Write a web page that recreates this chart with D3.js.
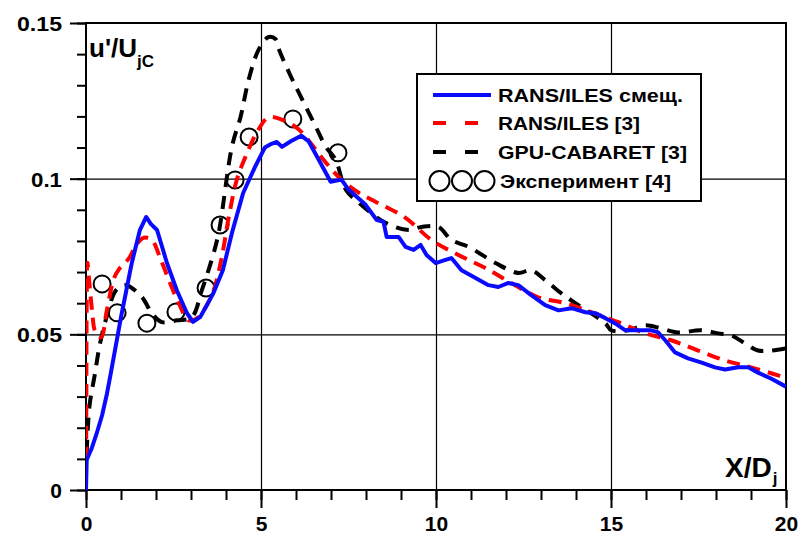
<!DOCTYPE html>
<html>
<head>
<meta charset="utf-8">
<script src="https://cdn.jsdelivr.net/npm/d3@7/dist/d3.min.js"></script>
<style>
  body { margin: 0; background: #fff; }
  svg { display: block; }
  text { font-family: "Liberation Sans", Arial, sans-serif; font-weight: bold; fill: #000; }
</style>
</head>
<body>
<svg width="803" height="537"></svg>
<script>
// RANS/ILES смещ. (solid blue)
const blueX = [0, 0.02, 0.15, 0.3, 0.46, 0.6, 0.7, 0.83, 1.0, 1.15, 1.31, 1.54, 1.72, 1.85, 2.03, 2.31, 2.6, 2.89, 3.06, 3.26, 3.63, 3.91, 4.18, 4.49, 4.83, 5.11, 5.3, 5.45, 5.6, 5.85, 6.15, 6.36, 6.65, 6.99, 7.3, 7.5, 7.99, 8.3, 8.5, 8.59, 8.93, 9.13, 9.36, 9.56, 9.73, 9.99, 10.27, 10.44, 10.73, 11.13, 11.5, 11.78, 12.07, 12.35, 12.72, 13.12, 13.5, 13.87, 14.27, 14.55, 14.84, 15.12, 15.41, 15.69, 16.15, 16.35, 16.55, 16.83, 17.2, 17.57, 17.97, 18.26, 18.63, 18.92, 19.2, 19.57, 20];
const blueY = [0, 0.0097, 0.013, 0.018, 0.024, 0.031, 0.037, 0.045, 0.0555, 0.064, 0.073, 0.0835, 0.0877, 0.0855, 0.0835, 0.073, 0.064, 0.0567, 0.054, 0.0555, 0.063, 0.0706, 0.083, 0.0954, 0.1038, 0.110, 0.1112, 0.1118, 0.1102, 0.112, 0.1138, 0.112, 0.1061, 0.099, 0.0997, 0.0965, 0.0916, 0.0868, 0.0861, 0.0813, 0.0813, 0.0781, 0.0771, 0.0787, 0.0755, 0.0729, 0.0739, 0.0745, 0.0706, 0.0681, 0.0658, 0.0652, 0.0665, 0.0658, 0.0626, 0.0594, 0.0577, 0.0584, 0.0571, 0.0568, 0.0552, 0.0535, 0.0513, 0.0513, 0.0513, 0.0506, 0.0481, 0.0442, 0.0423, 0.041, 0.0394, 0.0387, 0.0394, 0.0394, 0.0377, 0.0358, 0.0332];

// RANS/ILES [3] (red dashed)
const redX = [0, 0.01, 0.02, 0.04, 0.1, 0.18, 0.26, 0.43, 0.6, 0.8, 0.95, 1.23, 1.45, 1.65, 1.88, 2.14, 2.37, 2.65, 2.94, 3.22, 3.42, 3.65, 3.88, 4.08, 4.31, 4.56, 4.88, 5.22, 5.71, 6.08, 6.45, 6.85, 7.3, 7.79, 8.27, 9.13, 9.87, 10.64, 11.41, 12.15, 12.92, 13.69, 14.44, 15.21, 15.98, 16.72, 17.49, 18.26, 19.0, 19.77, 20];
const redY = [0.003, 0.03, 0.06, 0.073, 0.066, 0.057, 0.051, 0.049, 0.058, 0.068, 0.071, 0.0745, 0.079, 0.081, 0.0803, 0.0739, 0.0674, 0.060, 0.0545, 0.0555, 0.0587, 0.0642, 0.0748, 0.0877, 0.0997, 0.1071, 0.1148, 0.1197, 0.1184, 0.1158, 0.111, 0.1052, 0.0997, 0.0955, 0.0926, 0.0874, 0.0803, 0.0755, 0.0713, 0.0665, 0.0619, 0.060, 0.0571, 0.0539, 0.0503, 0.0481, 0.0448, 0.0416, 0.0394, 0.0368, 0.0358];

// GPU-CABARET [3] (black dashed)
const blackX = [0.02, 0.1, 0.25, 0.4, 0.6, 0.86, 1.14, 1.6, 1.88, 2.17, 2.6, 3.02, 3.31, 3.59, 3.79, 4.17, 4.42, 4.65, 4.94, 5.22, 5.42, 5.51, 5.85, 6.13, 6.56, 6.85, 7.13, 7.42, 7.79, 8.56, 9.22, 9.59, 10.07, 10.44, 10.93, 11.7, 12.35, 12.72, 13.12, 13.58, 13.98, 14.84, 15.01, 15.49, 15.98, 16.43, 16.92, 17.57, 18.06, 18.43, 18.83, 19.2, 19.57, 20];
const blackY = [0.012, 0.027, 0.037, 0.047, 0.056, 0.0642, 0.0658, 0.0619, 0.0568, 0.0539, 0.0545, 0.0555, 0.0642, 0.0739, 0.0826, 0.1103, 0.12, 0.1319, 0.1416, 0.1455, 0.1448, 0.1416, 0.1329, 0.1265, 0.1168, 0.1103, 0.1061, 0.0965, 0.0923, 0.0858, 0.0835, 0.0845, 0.0845, 0.0803, 0.0781, 0.0729, 0.0697, 0.0706, 0.0674, 0.0632, 0.060, 0.0535, 0.0513, 0.0513, 0.0529, 0.0519, 0.0506, 0.0513, 0.0503, 0.0497, 0.0471, 0.0448, 0.0448, 0.0455];

// Эксперимент [4] (open circles)
const expX = [0.46, 0.89, 1.74, 2.57, 3.43, 3.83, 4.26, 4.66, 5.91, 7.2];
const expY = [0.0662, 0.0569, 0.0536, 0.0572, 0.0649, 0.0851, 0.0996, 0.1134, 0.1192, 0.1083];

const xTicks = [0, 5, 10, 15, 20];
const yTicks = [0, 0.05, 0.1, 0.15];
const yTickLabels = ["0", "0.05", "0.1", "0.15"];

const svg = d3.select('svg');
const mLeft = 86, mRight = 786, mTop = 23, mBottom = 490;

const x = d3.scaleLinear().domain([0, 20]).range([mLeft, mRight]);
const y = d3.scaleLinear().domain([0, 0.15]).range([mBottom, mTop]);

const zip = (xs, ys) => xs.map((v, i) => [v, ys[i]]);

// grid
svg.append('g')
  .attr('transform', `translate(0,${mBottom})`)
  .call(d3.axisBottom(x).tickValues([5, 10, 15]).tickSize(-(mBottom - mTop)).tickFormat(''))
  .call(g => g.select('.domain').remove())
  .selectAll('line').attr('stroke', '#000').attr('stroke-width', 1.2);
svg.append('g')
  .attr('transform', `translate(${mLeft},0)`)
  .call(d3.axisLeft(y).tickValues([0.05, 0.1]).tickSize(-(mRight - mLeft)).tickFormat(''))
  .call(g => g.select('.domain').remove())
  .selectAll('line').attr('stroke', '#000').attr('stroke-width', 1.2);

// minor ticks
svg.append('g')
  .attr('transform', `translate(0,${mBottom})`)
  .call(d3.axisBottom(x).tickValues(d3.range(0, 21, 1)).tickSize(10).tickFormat(''))
  .call(g => g.select('.domain').remove())
  .selectAll('line').attr('stroke', '#000').attr('stroke-width', 2);
svg.append('g')
  .attr('transform', `translate(${mLeft},0)`)
  .call(d3.axisLeft(y).tickValues(d3.range(0, 16).map(i => i / 100)).tickSize(9).tickFormat(''))
  .call(g => g.select('.domain').remove())
  .selectAll('line').attr('stroke', '#000').attr('stroke-width', 2);

// major ticks + labels
const xAxis = svg.append('g')
  .attr('transform', `translate(0,${mBottom})`)
  .call(d3.axisBottom(x).tickValues(xTicks).tickSize(18).tickFormat(d3.format('d')));
xAxis.select('.domain').remove();
xAxis.selectAll('line').attr('stroke', '#000').attr('stroke-width', 2);
xAxis.selectAll('text').attr('y', 41).attr('dy', 0)
  .attr('font-family', null).attr('font-size', null).style('font-size', '21px');

const yLabelWidth = { "0.15": 45, "0.05": 45, "0.1": 31 };
const yAxis = svg.append('g')
  .attr('transform', `translate(${mLeft},0)`)
  .call(d3.axisLeft(y).tickValues(yTicks).tickSize(16).tickFormat((d, i) => yTickLabels[i]));
yAxis.select('.domain').remove();
yAxis.selectAll('line').attr('stroke', '#000').attr('stroke-width', 2);
yAxis.selectAll('text').attr('x', -24).attr('dy', '0.36em')
  .attr('font-family', null).attr('font-size', null).style('font-size', '21px')
  .each(function () {
    const w = yLabelWidth[this.textContent];
    if (w) d3.select(this).attr('textLength', w).attr('lengthAdjust', 'spacingAndGlyphs');
  });

// frame
svg.append('rect')
  .attr('x', mLeft).attr('y', mTop)
  .attr('width', mRight - mLeft).attr('height', mBottom - mTop)
  .attr('fill', 'none').attr('stroke', '#000').attr('stroke-width', 2);

// clip
svg.append('clipPath').attr('id', 'plot')
  .append('rect').attr('x', mLeft).attr('y', mTop).attr('width', mRight - mLeft).attr('height', mBottom - mTop);

const line = d3.line().x(d => x(d[0])).y(d => y(d[1]));
const smooth = d3.line().x(d => x(d[0])).y(d => y(d[1])).curve(d3.curveCatmullRom);

const plot = svg.append('g').attr('clip-path', 'url(#plot)');

plot.selectAll('circle.exp').data(zip(expX, expY)).enter()
  .append('circle').attr('class', 'exp')
  .attr('cx', d => x(d[0])).attr('cy', d => y(d[1])).attr('r', 8.5)
  .attr('fill', 'none').attr('stroke', '#000').attr('stroke-width', 2);

plot.append('path').datum(zip(blackX, blackY))
  .attr('d', smooth).attr('fill', 'none').attr('stroke', '#000')
  .attr('stroke-width', 4).attr('stroke-dasharray', '13,9');

plot.append('path').datum(zip(redX, redY))
  .attr('d', smooth).attr('fill', 'none').attr('stroke', '#ff0000')
  .attr('stroke-width', 4).attr('stroke-dasharray', '13,8');

plot.append('path').datum(zip(blueX, blueY))
  .attr('d', line).attr('fill', 'none').attr('stroke', '#0a0aff')
  .attr('stroke-width', 4).attr('stroke-linejoin', 'round');

// axis titles
const yt = svg.append('text').attr('x', 89).attr('y', 57).style('font-size', '26px');
yt.append('tspan').text("u'/U");
yt.append('tspan').attr('dy', 10).style('font-size', '17px').text('jC');

const xt = svg.append('text').attr('x', 725).attr('y', 477).style('font-size', '28px');
xt.append('tspan').text('X/D');
xt.append('tspan').attr('dy', 7).attr('dx', 1).style('font-size', '17px').text('j');

// legend
const legend = svg.append('g');
legend.append('rect')
  .attr('x', 417).attr('y', 74).attr('width', 284).attr('height', 127)
  .attr('fill', '#fff').attr('stroke', '#000').attr('stroke-width', 2);

const legendNames = ['RANS/ILES смещ.', 'RANS/ILES [3]', 'GPU-CABARET [3]', 'Эксперимент [4]'];
const legendWidths = [185, 142, 189, 171];
const legendY = [95, 123, 152, 181];

legend.append('line').attr('x1', 433).attr('x2', 491).attr('y1', legendY[0]).attr('y2', legendY[0])
  .attr('stroke', '#0a0aff').attr('stroke-width', 4);
legend.append('line').attr('x1', 433).attr('x2', 479).attr('y1', legendY[1]).attr('y2', legendY[1])
  .attr('stroke', '#ff0000').attr('stroke-width', 4).attr('stroke-dasharray', '13,19');
legend.append('line').attr('x1', 433).attr('x2', 479).attr('y1', legendY[2]).attr('y2', legendY[2])
  .attr('stroke', '#000').attr('stroke-width', 4).attr('stroke-dasharray', '13,19');
[439.5, 462, 484.5].forEach(cx => {
  legend.append('circle').attr('cx', cx).attr('cy', legendY[3]).attr('r', 10)
    .attr('fill', 'none').attr('stroke', '#000').attr('stroke-width', 2);
});

legend.selectAll('text.lg').data(legendNames).enter()
  .append('text').attr('class', 'lg')
  .attr('x', (d, i) => i === 3 ? 500 : 498)
  .attr('y', (d, i) => legendY[i] + 7)
  .attr('textLength', (d, i) => legendWidths[i])
  .attr('lengthAdjust', 'spacingAndGlyphs')
  .style('font-size', '19px')
  .text(d => d);
</script>
</body>
</html>
